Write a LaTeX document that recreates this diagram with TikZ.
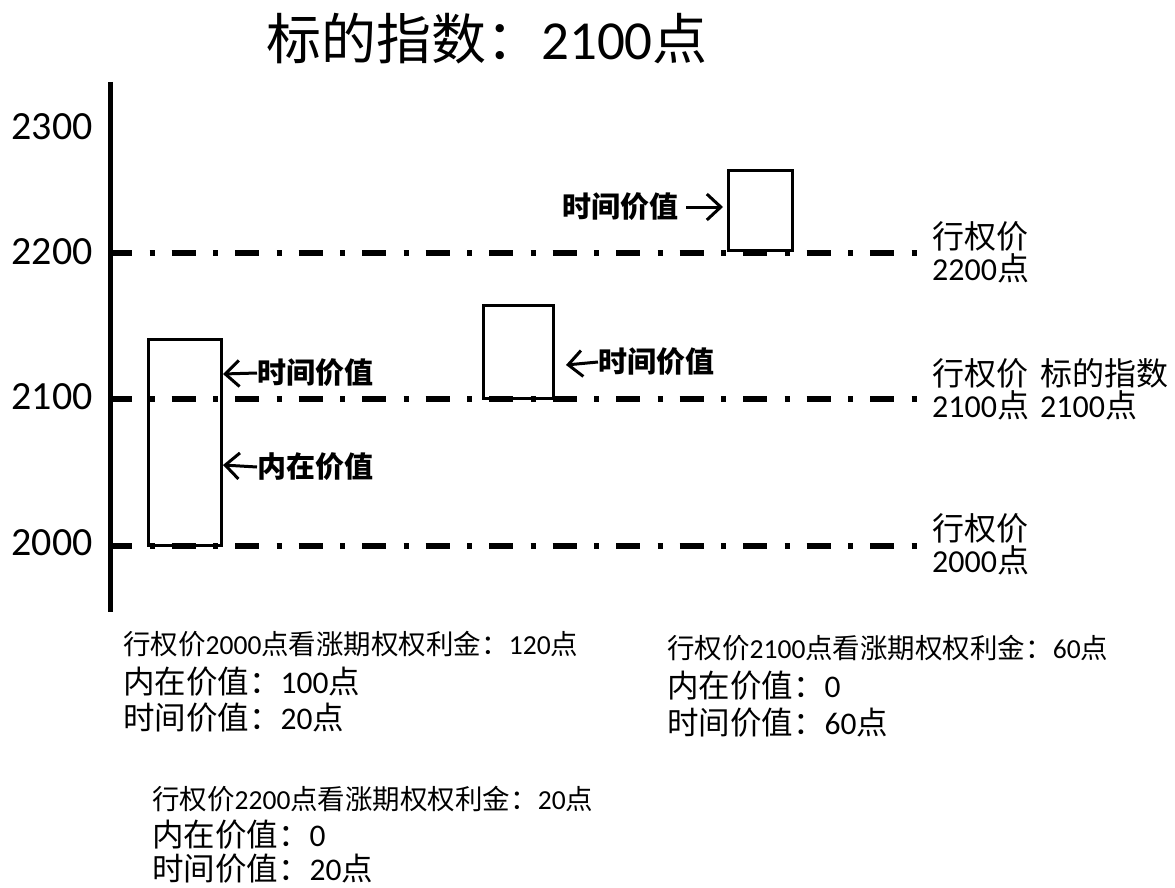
\documentclass[tikz,border=0pt]{standalone}
\usepackage{fontspec}
\setmainfont{Carlito}
\newfontfamily\cjk{Noto Sans CJK SC}
\usetikzlibrary{arrows.meta}
\newcommand\zh[1]{{\cjk #1}}
\newcommand\fs[1]{\fontsize{#1}{#1}\selectfont}
\tikzset{
  txt/.style={inner sep=0pt, anchor=west},
  box/.style={draw, line width=3pt, inner sep=0pt},
  level/.style={line width=6pt, dash pattern=on 24pt off 17.5pt on 5pt off 17pt},
  arrowline/.style={line width=3pt, arrows={-Straight Barb[length=14pt,width=26pt,line width=3pt]}},
  lbl/.style={txt, font=\cjk\bfseries\fs{29}},
}
\begin{document}
\begin{tikzpicture}[x=1pt,y=-1pt]
\useasboundingbox (0,0) rectangle (1175,888);
% title
\node[inner sep=0pt] (title) at (487,39) {\fs{55}\zh{标的指数：}2100\zh{点}};
% axis
\coordinate (axtop) at (110,82);
\coordinate (axbot) at (110,612);
\draw[line width=5pt] (axtop) -- (axbot);
% y labels
\node[inner sep=0pt, anchor=east] (y2300) at (93,127) {\fs{40}2300};
\node[inner sep=0pt, anchor=east] (y2200) at (93,252) {\fs{40}2200};
\node[inner sep=0pt, anchor=east] (y2100) at (93,397) {\fs{40}2100};
\node[inner sep=0pt, anchor=east] (y2000) at (93,543) {\fs{40}2000};
% boxes
\node[box, minimum width=73pt, minimum height=206pt] (b1) at (184.5,442) {};
\node[box, minimum width=70pt, minimum height=93pt] (b2) at (518,351.5) {};
\node[box, minimum width=64pt, minimum height=80pt] (b3) at (760,210) {};
% level lines
\coordinate (l2200a) at (108,253); \coordinate (l2200b) at (917,253);
\coordinate (l2100a) at (108,399); \coordinate (l2100b) at (917,399);
\coordinate (l2000a) at (108,546); \coordinate (l2000b) at (917,546);
\draw[level] (l2200a) -- (l2200b);
\draw[level] (l2100a) -- (l2100b);
\draw[level] (l2000a) -- (l2000b);
% box labels and arrows
\node[lbl] (t1) at (257,373) {时间价值};
\node[lbl] (n1) at (257,467) {内在价值};
\node[lbl] (t2) at (598,362) {时间价值};
\node[lbl, anchor=east] (t3) at (679,207) {时间价值};
\coordinate (b1t) at (223,374);
\coordinate (b1n) at (223,465);
\coordinate (b2t) at (566,365);
\coordinate (b3t) at (723,207);
\draw[arrowline] (t1.west) -- (b1t);
\draw[arrowline] (n1.west) -- (b1n);
\draw[arrowline] (t2.west) -- (b2t);
\draw[arrowline] ([xshift=7pt]t3.east) -- (b3t);
% right labels
\node[txt, align=left, font=\fs{32}] (r2200) at (932,252) {\zh{行权价}\\2200\zh{点}};
\node[txt, align=left, font=\fs{32}] (r2100) at (932,389) {\zh{行权价}\\2100\zh{点}};
\node[txt, align=left, font=\fs{32}] (r2100u) at (1040,389) {\zh{标的指数}\\2100\zh{点}};
\node[txt, align=left, font=\fs{32}] (r2000) at (932,544) {\zh{行权价}\\2000\zh{点}};
% bottom block 1
\node[txt, font=\fs{27.5}] (a1) at (123,644) {\zh{行权价}2000\zh{点看涨期权权利金：}120\zh{点}};
\node[txt, font=\fs{31.5}] (a2) at (123,682) {\zh{内在价值：}100\zh{点}};
\node[txt, font=\fs{31.5}] (a3) at (123,718) {\zh{时间价值：}20\zh{点}};
% bottom block 2
\node[txt, font=\fs{27.5}] (c1) at (667,648) {\zh{行权价}2100\zh{点看涨期权权利金：}60\zh{点}};
\node[txt, font=\fs{31.5}] (c2) at (667,686) {\zh{内在价值：}0};
\node[txt, font=\fs{31.5}] (c3) at (667,723) {\zh{时间价值：}60\zh{点}};
% bottom block 3
\node[txt, font=\fs{27.5}] (d1) at (152,799) {\zh{行权价}2200\zh{点看涨期权权利金：}20\zh{点}};
\node[txt, font=\fs{31.5}] (d2) at (152,835) {\zh{内在价值：}0};
\node[txt, font=\fs{31.5}] (d3) at (152,869) {\zh{时间价值：}20\zh{点}};
\end{tikzpicture}
\end{document}
